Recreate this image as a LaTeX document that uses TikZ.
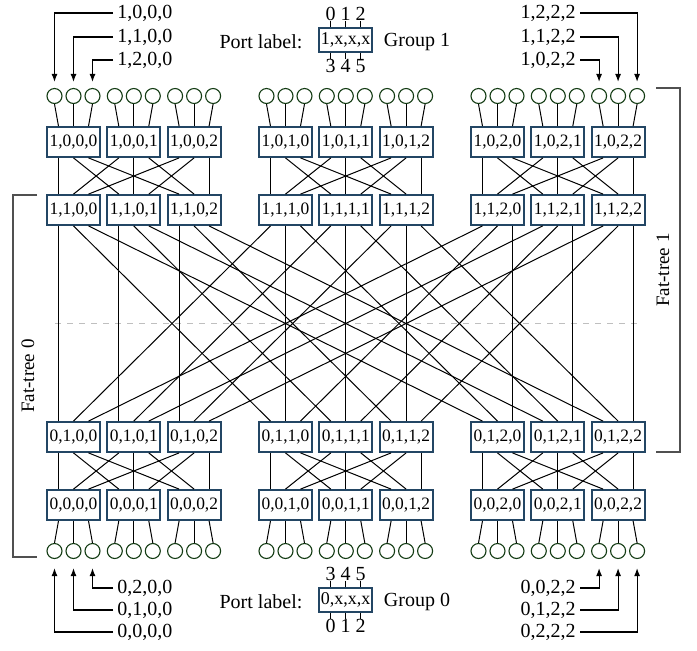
\documentclass[tikz,border=0pt]{standalone}
\usepackage{fontspec}
\setmainfont{Liberation Serif}
\usetikzlibrary{calc,arrows.meta}
\definecolor{boxc}{RGB}{35,70,100}
\definecolor{circc}{RGB}{20,60,20}
\definecolor{brk}{RGB}{80,80,80}
\begin{document}
\begin{tikzpicture}[x=0.5pt,y=-0.5pt,
  sw/.style={draw=boxc,fill=white,line width=0.9pt,minimum width=26.5pt,minimum height=15pt,inner sep=0pt,font=\fontsize{8.7}{10}\selectfont},
  pbox/.style={draw=boxc,fill=white,line width=0.9pt,minimum width=26.5pt,minimum height=12pt,inner sep=0pt,font=\fontsize{9}{10}\selectfont},
  host/.style={circle,draw=circc,fill=white,line width=0.55pt,minimum size=7.5pt,inner sep=0pt},
  lnk/.style={line width=0.5pt},
  lab/.style={inner sep=2pt,font=\fontsize{10}{12}\selectfont},
  num/.style={inner sep=0pt,font=\fontsize{10}{12}\selectfont},
  arr/.style={line width=0.6pt,-{Latex[length=4pt,width=3pt]}},
  brack/.style={draw=brk,line width=0.6pt}]
\useasboundingbox (0,0) rectangle (697,650);
\draw[dashed,black!25,line width=0.4pt] (55,323) -- (637,323);
% switches and hosts
\foreach \p in {0,1,2}{\foreach \i in {0,1,2}{
  \pgfmathsetmacro\cx{73.5+212*\p+60.3*\i}
  \node[sw] (A-\p-\i) at (\cx,142) {1,0,\p,\i};
  \node[sw] (B-\p-\i) at (\cx,210) {1,1,\p,\i};
  \node[sw] (C-\p-\i) at (\cx,437) {0,1,\p,\i};
  \node[sw] (D-\p-\i) at (\cx,505) {0,0,\p,\i};
  \foreach \k in {0,1,2}{
    \node[host] (T-\p-\i-\k) at (\cx+19*\k-19,96) {};
    \node[host] (U-\p-\i-\k) at (\cx+19*\k-19,551) {};
  }
}}
% links
\foreach \p in {0,1,2}{\foreach \i in {0,1,2}{\foreach \j in {0,1,2}{
  \draw[lnk] ($(A-\p-\i.south)+(\j*15-15,0)$) -- ($(B-\p-\j.north)+(\i*15-15,0)$);
  \draw[lnk] ($(C-\p-\i.south)+(\j*15-15,0)$) -- ($(D-\p-\j.north)+(\i*15-15,0)$);
  \draw[lnk] ($(B-\p-\i.south)+(\j*15-15,0)$) -- ($(C-\j-\i.north)+(\p*15-15,0)$);
  \draw[lnk] (T-\p-\i-\j.south) -- ($(A-\p-\i.north)+(\j*15-15,0)$);
  \draw[lnk] (U-\p-\i-\j.north) -- ($(D-\p-\i.south)+(\j*15-15,0)$);
}}}
% host labels top
\node[lab,anchor=west] (tl0) at (113,13) {1,0,0,0};
\node[lab,anchor=west] (tl1) at (113,37) {1,1,0,0};
\node[lab,anchor=west] (tl2) at (113,60) {1,2,0,0};
\draw[arr,shorten >=3pt] (tl0.west) -| (T-0-0-0.north);
\draw[arr,shorten >=3pt] (tl1.west) -| (T-0-0-1.north);
\draw[arr,shorten >=3pt] (tl2.west) -| (T-0-0-2.north);
\node[lab,anchor=east] (tr2) at (580,13) {1,2,2,2};
\node[lab,anchor=east] (tr1) at (580,37) {1,1,2,2};
\node[lab,anchor=east] (tr0) at (580,60) {1,0,2,2};
\draw[arr,shorten >=3pt] (tr2.east) -| (T-2-2-2.north);
\draw[arr,shorten >=3pt] (tr1.east) -| (T-2-2-1.north);
\draw[arr,shorten >=3pt] (tr0.east) -| (T-2-2-0.north);
% host labels bottom
\node[lab,anchor=west] (bl2) at (113,588) {0,2,0,0};
\node[lab,anchor=west] (bl1) at (113,610) {0,1,0,0};
\node[lab,anchor=west] (bl0) at (113,632) {0,0,0,0};
\draw[arr,shorten >=4.5pt] (bl2.west) -| (U-0-0-2.south);
\draw[arr,shorten >=4.5pt] (bl1.west) -| (U-0-0-1.south);
\draw[arr,shorten >=4.5pt] (bl0.west) -| (U-0-0-0.south);
\node[lab,anchor=east] (br0) at (580,588) {0,0,2,2};
\node[lab,anchor=east] (br1) at (580,610) {0,1,2,2};
\node[lab,anchor=east] (br2) at (580,632) {0,2,2,2};
\draw[arr,shorten >=4.5pt] (br0.east) -| (U-2-2-0.south);
\draw[arr,shorten >=4.5pt] (br1.east) -| (U-2-2-1.south);
\draw[arr,shorten >=4.5pt] (br2.east) -| (U-2-2-2.south);
% port label legends
\node[lab] (plt1) at (261,42) {Port label:};
\node[pbox] (pl1) at (345.5,40) {1,x,x,x};
\node[lab] (g1) at (417,42) {Group 1};
\foreach \k/\a/\b in {0/0/3,1/1/4,2/2/5}{
  \node[num,anchor=south] (pa\k) at (345.5+15*\k-15,21) {\a};
  \node[num,anchor=north] (pb\k) at (345.5+15*\k-15,59) {\b};
  \draw[lnk] ($(pl1.north)+(\k*15-15,0)$) -- (pa\k.south);
  \draw[lnk] ($(pl1.south)+(\k*15-15,0)$) -- (pb\k.north);
}
\node[lab] (plt0) at (261,602) {Port label:};
\node[pbox] (pl0) at (345.5,600) {0,x,x,x};
\node[lab] (g0) at (417,602) {Group 0};
\foreach \k/\a/\b in {0/3/0,1/4/1,2/5/2}{
  \node[num,anchor=south] (qa\k) at (345.5+15*\k-15,581) {\a};
  \node[num,anchor=north] (qb\k) at (345.5+15*\k-15,619) {\b};
  \draw[lnk] ($(pl0.north)+(\k*15-15,0)$) -- (qa\k.south);
  \draw[lnk] ($(pl0.south)+(\k*15-15,0)$) -- (qb\k.north);
}
% fat-tree brackets
\draw[brack] (37,195) -- (13,195) -- (13,557) -- (37,557);
\node[lab,rotate=90,font=\fontsize{9.5}{11}\selectfont] (ft0) at (28,376) {Fat-tree 0};
\draw[brack] (656,88) -- (680,88) -- (680,452) -- (656,452);
\node[lab,rotate=90,font=\fontsize{9.5}{11}\selectfont] (ft1) at (663,270) {Fat-tree 1};
\end{tikzpicture}
\end{document}
